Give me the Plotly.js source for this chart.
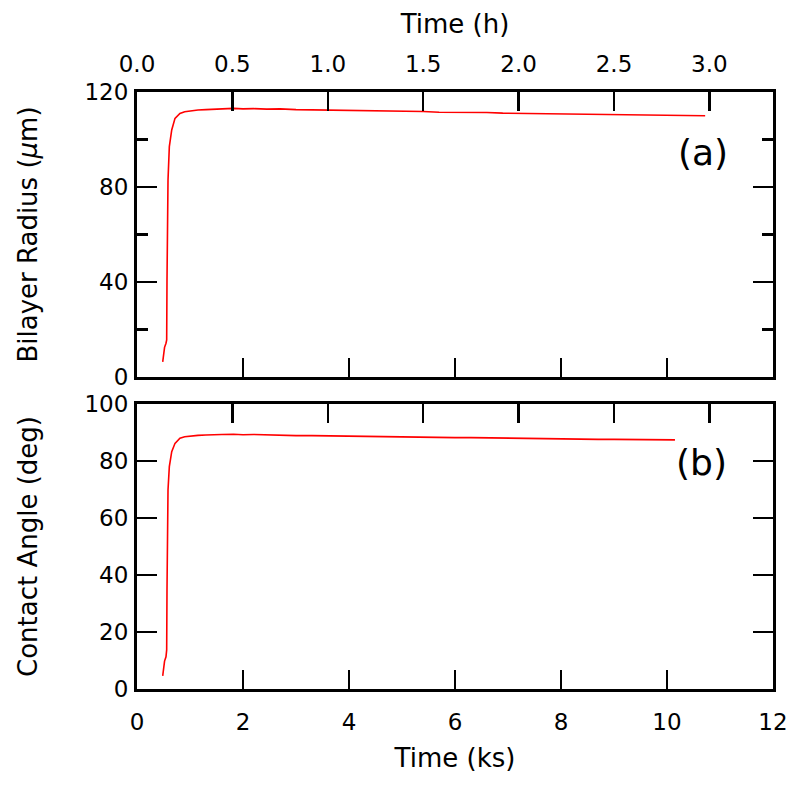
<!DOCTYPE html>
<html>
<head>
<meta charset="utf-8">
<script src="https://cdn.plot.ly/plotly-3.0.1.min.js"></script>
<style>html,body{margin:0;padding:0;background:#fff;}</style>
</head>
<body>
<div id="chart" style="width:800px;height:788px;"></div>
<script>
// Time in ks
const timeA = [0.485,0.50,0.52,0.547,0.56,0.566,0.572,0.585,0.61,0.655,0.717,0.81,0.90,1.00,1.15,1.30,1.44,1.60,1.82,2.00,2.20,2.45,2.70,3.00,3.30,3.60,3.90,4.20,4.50,4.80,5.10,5.40,5.70,6.00,6.30,6.60,6.90,7.20,7.50,7.80,8.10,8.40,8.70,9.00,9.30,9.60,9.90,10.20,10.50,10.72];
const radius = [6.4,9.5,12.5,14.2,15.6,40.8,68.9,82.9,97.0,104.0,108.9,111.0,111.7,112.1,112.4,112.6,112.7,112.9,113.1,112.9,113.0,112.8,112.9,112.6,112.5,112.3,112.4,112.1,112.0,111.9,111.7,111.8,111.5,111.5,111.3,111.4,111.1,111.0,111.1,110.8,110.8,110.6,110.7,110.5,110.4,110.4,110.2,110.1,110.1,110.0];
const timeB = [0.485,0.50,0.52,0.547,0.56,0.566,0.572,0.585,0.61,0.655,0.717,0.81,0.90,1.00,1.15,1.30,1.44,1.60,1.82,2.00,2.20,2.45,2.70,3.00,3.30,3.60,3.90,4.20,4.50,4.80,5.10,5.40,5.70,6.00,6.30,6.60,6.90,7.20,7.50,7.80,8.10,8.40,8.70,9.00,9.30,9.60,9.90,10.15];
const angle = [4.6,7.5,9.8,11.3,13.7,34.7,58.1,69.8,78.0,83.3,86.2,88.0,88.5,88.8,89.0,89.1,89.1,89.3,89.4,89.2,89.3,89.1,89.1,88.9,88.9,88.8,88.8,88.6,88.6,88.5,88.4,88.4,88.3,88.2,88.2,88.1,88.0,88.0,87.8,87.9,87.7,87.7,87.6,87.6,87.5,87.5,87.4,87.4];

const xTicksKs = [0,2,4,6,8,10,12];
const xTickTextKs = ['0','2','4','6','8','10','12'];
const xTicksH = [0,0.5,1.0,1.5,2.0,2.5,3.0];
const xTickTextH = ['0.0','0.5','1.0','1.5','2.0','2.5','3.0'];
const yTicksA = [0,40,80,120];
const yTicksB = [0,20,40,60,80,100];
const ksToH = 1/3.6;
const xMaxKs = 12;

const FONT = '"DejaVu Sans", Verdana, sans-serif';
const tickFont = {family: FONT, size: 23, color: '#000'};
const titleFont = {family: FONT, size: 26, color: '#000'};

const common = {
  showline: true, linewidth: 3, linecolor: '#000',
  ticks: 'inside', tickwidth: 2.5, tickcolor: '#000',
  showgrid: false, zeroline: false, fixedrange: true,
  tickfont: tickFont
};

const redLine = {color: '#ff0000', width: 1.6};
const traces = [
  {x: timeA, y: radius, xaxis: 'x3', yaxis: 'y', type: 'scatter', mode: 'lines',
   line: redLine, hoverinfo: 'skip', showlegend: false},
  {x: timeB, y: angle, xaxis: 'x', yaxis: 'y2', type: 'scatter', mode: 'lines',
   line: redLine, hoverinfo: 'skip', showlegend: false},
  // same data expressed in hours, so the top (hour) axes are registered; not drawn
  {x: timeA.map(t => t * ksToH), y: radius, xaxis: 'x2', yaxis: 'y', type: 'scatter', mode: 'none',
   hoverinfo: 'skip', showlegend: false},
  {x: timeB.map(t => t * ksToH), y: angle, xaxis: 'x4', yaxis: 'y2', type: 'scatter', mode: 'none',
   hoverinfo: 'skip', showlegend: false}
];

const layout = {
  width: 800, height: 788,
  margin: {l: 137, r: 27, t: 92, b: 99},
  paper_bgcolor: '#fff', plot_bgcolor: '#fff',
  showlegend: false,
  font: {family: FONT, color: '#000'},
  xaxis: Object.assign({}, common, {
    anchor: 'y2', domain: [0, 1], range: [0, xMaxKs],
    tickmode: 'array', tickvals: xTicksKs, ticktext: xTickTextKs, ticklen: 19,
    ticklabelstandoff: 10,
    title: {text: 'Time (ks)', font: titleFont, standoff: 16}
  }),
  xaxis4: Object.assign({}, common, {
    anchor: 'y2', overlaying: 'x', side: 'top', range: [0, xMaxKs * ksToH],
    tickmode: 'array', tickvals: xTicksH, ticktext: xTickTextH, ticklen: 19,
    showticklabels: false
  }),
  xaxis3: Object.assign({}, common, {
    anchor: 'y', domain: [0, 1], range: [0, xMaxKs],
    tickmode: 'array', tickvals: xTicksKs, ticktext: xTickTextKs, ticklen: 19,
    showticklabels: false
  }),
  xaxis2: Object.assign({}, common, {
    anchor: 'y', overlaying: 'x3', side: 'top', range: [0, xMaxKs * ksToH],
    tickmode: 'array', tickvals: xTicksH, ticktext: xTickTextH, ticklen: 19,
    ticklabelstandoff: 8,
    title: {text: 'Time (h)', font: titleFont, standoff: 10}
  }),
  yaxis: Object.assign({}, common, {
    anchor: 'x3', domain: [0.5226, 1], range: [0, 120],
    tickmode: 'array', tickvals: yTicksA, ticklen: 20, mirror: 'ticks',
    ticklabelstandoff: 1,
    minor: {dtick: 20, tick0: 0, ticklen: 11, tickwidth: 2.5, tickcolor: '#000', ticks: 'inside'},
    title: {text: 'Bilayer Radius (<i>μ</i>m)', font: titleFont, standoff: 40}
  }),
  yaxis2: Object.assign({}, common, {
    anchor: 'x', domain: [0, 0.4774], range: [0, 100],
    tickmode: 'array', tickvals: yTicksB, ticklen: 20, mirror: 'ticks',
    ticklabelstandoff: 1,
    title: {text: 'Contact Angle (deg)', font: titleFont, standoff: 40}
  }),
  annotations: [
    {text: '(a)', xref: 'paper', yref: 'paper', x: 0.89, y: 0.898, showarrow: false,
     font: {family: FONT, size: 36, color: '#000'}, xanchor: 'center', yanchor: 'middle'},
    {text: '(b)', xref: 'paper', yref: 'paper', x: 0.888, y: 0.379, showarrow: false,
     font: {family: FONT, size: 36, color: '#000'}, xanchor: 'center', yanchor: 'middle'}
  ]
};

Plotly.newPlot('chart', traces, layout, {displayModeBar: false, staticPlot: true});
</script>
</body>
</html>
